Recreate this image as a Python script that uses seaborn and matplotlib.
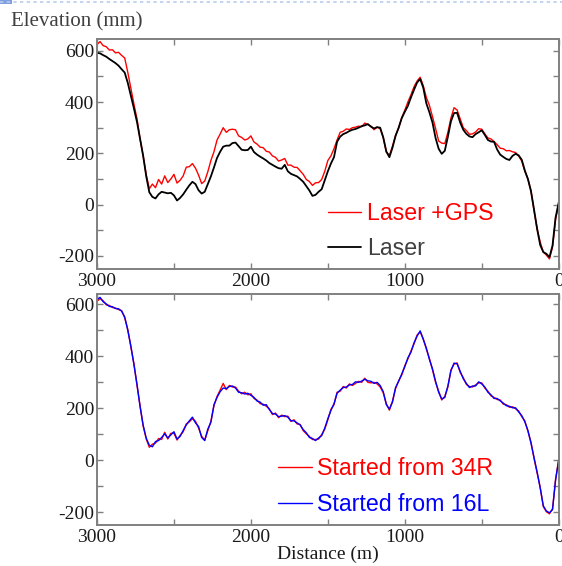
import numpy as np
import pandas as pd
import seaborn as sns
import matplotlib
matplotlib.use("Agg")
import matplotlib.pyplot as plt
from matplotlib.lines import Line2D
from matplotlib.patches import Rectangle
from matplotlib.ticker import MultipleLocator

# Distance along the runway (m), sampled every 20 m from 3000 down to 0
distance = np.arange(3000, -1, -20)

# Elevation profile (mm): laser combined with GPS
laser_gps = [
    625, 636, 620, 616, 603, 604, 592, 594, 582, 572,
    516, 455, 392, 334, 256, 190, 116, 62, 80, 66,
    98, 80, 112, 86, 100, 118, 84, 95, 112, 146,
    148, 160, 142, 115, 82, 92, 128, 172, 206, 252,
    275, 300, 282, 292, 294, 292, 268, 262, 252, 256,
    268, 244, 236, 224, 222, 208, 205, 190, 184, 170,
    174, 180, 154, 154, 146, 145, 132, 118, 98, 90,
    75, 85, 86, 98, 130, 172, 190, 218, 252, 282,
    286, 295, 293, 300, 302, 306, 304, 318, 312, 306,
    292, 302, 296, 262, 205, 192, 228, 270, 298, 339,
    368, 400, 428, 460, 482, 497, 464, 418, 387, 343,
    297, 248, 240, 238, 282, 338, 378, 369, 334, 300,
    289, 274, 276, 283, 296, 294, 276, 260, 256, 246,
    234, 220, 218, 210, 211, 206, 203, 189, 170, 130,
    100, 55, -25, -95, -146, -185, -197, -212, -165, -55,
    -5,
]

# Elevation profile (mm): laser only
laser_only = [
    592, 590, 583, 577, 568, 560, 552, 542, 528, 515,
    475, 425, 375, 322, 255, 190, 110, 48, 30, 24,
    40, 50, 47, 44, 46, 36, 16, 26, 40, 58,
    75, 89, 80, 56, 43, 50, 80, 110, 145, 182,
    206, 226, 230, 230, 240, 242, 228, 214, 212, 213,
    226, 205, 195, 187, 180, 172, 162, 155, 148, 142,
    140, 155, 130, 120, 115, 110, 100, 89, 72, 55,
    34, 38, 50, 60, 95, 130, 160, 185, 245, 265,
    275, 280, 287, 292, 295, 300, 306, 309, 314, 304,
    297, 302, 300, 262, 207, 185, 222, 268, 300, 337,
    362, 385, 418, 448, 476, 490, 456, 395, 360, 320,
    260, 218, 198, 210, 265, 325, 357, 358, 320, 292,
    276, 266, 263, 275, 282, 290, 272, 252, 246, 245,
    215, 195, 186, 178, 174, 190, 198, 192, 175, 133,
    100, 52, -20, -95, -158, -185, -192, -205, -160, -50,
    8,
]

# Laser + GPS survey started from the 34R end
from_34r = [
    612, 622, 614, 598, 596, 588, 586, 580, 576, 548,
    504, 436, 372, 288, 210, 131, 82, 50, 62, 66,
    84, 80, 108, 82, 104, 104, 78, 96, 110, 140,
    148, 160, 150, 124, 92, 78, 114, 150, 210, 246,
    270, 296, 272, 288, 282, 282, 266, 256, 262, 252,
    256, 238, 232, 218, 216, 208, 198, 176, 182, 164,
    174, 168, 170, 150, 156, 140, 138, 114, 102, 92,
    80, 80, 82, 99, 120, 156, 196, 214, 262, 266,
    284, 278, 294, 288, 296, 304, 300, 316, 300, 298,
    300, 294, 282, 260, 218, 193, 228, 276, 306, 328,
    364, 390, 420, 448, 482, 494, 468, 428, 392, 348,
    300, 266, 232, 246, 282, 348, 370, 375, 338, 318,
    292, 284, 282, 290, 298, 298, 278, 266, 248, 242,
    234, 232, 216, 214, 204, 206, 198, 190, 168, 152,
    112, 70, 6, -48, -104, -178, -198, -206, -186, -72,
    2,
]

# Laser + GPS survey started from the 16L end
from_16l = [
    619, 627, 610, 602, 592, 591, 584, 583, 574, 552,
    500, 440, 368, 292, 206, 135, 85, 58, 52, 72,
    76, 88, 102, 86, 98, 110, 82, 92, 115, 136,
    152, 166, 144, 130, 88, 76, 120, 146, 214, 242,
    264, 278, 276, 284, 286, 278, 262, 260, 255, 258,
    250, 242, 228, 224, 212, 214, 195, 180, 178, 168,
    170, 172, 166, 152, 152, 144, 136, 118, 106, 88,
    84, 76, 86, 95, 124, 160, 192, 218, 258, 270,
    280, 282, 290, 292, 302, 300, 305, 312, 306, 304,
    296, 300, 288, 264, 214, 197, 224, 280, 304, 332,
    360, 394, 416, 452, 478, 498, 465, 432, 388, 352,
    304, 262, 236, 242, 286, 345, 374, 371, 342, 314,
    296, 280, 286, 286, 302, 294, 282, 262, 252, 238,
    238, 229, 220, 210, 208, 202, 202, 186, 172, 148,
    115, 66, 10, -45, -107, -175, -195, -202, -190, -75,
    0,
]

x_ticks_major = [3000, 2000, 1000, 0]
y_ticks_major = [-200, 0, 200, 400, 600]

top_df = pd.DataFrame({"distance": distance, "Laser +GPS": laser_gps, "Laser": laser_only})
bottom_df = pd.DataFrame({"distance": distance, "Started from 34R": from_34r,
                          "Started from 16L": from_16l})

sns.set_style("ticks")
plt.rcParams["font.family"] = ["Liberation Serif", "DejaVu Serif"]
plt.rcParams["axes.unicode_minus"] = False

fig = plt.figure(figsize=(5.62, 5.66), dpi=100)
fig.patch.set_facecolor("white")

ax_top = fig.add_axes([0.1726, 0.5253, 0.8215, 0.4058])
ax_bot = fig.add_axes([0.1726, 0.0724, 0.8215, 0.4082])

sns.lineplot(data=top_df, x="distance", y="Laser +GPS", ax=ax_top, color="#ff0000",
             linewidth=1.0, estimator=None, label="Laser +GPS")
sns.lineplot(data=top_df, x="distance", y="Laser", ax=ax_top, color="#000000",
             linewidth=1.3, estimator=None, label="Laser")

sns.lineplot(data=bottom_df, x="distance", y="Started from 34R", ax=ax_bot, color="#ff0000",
             linewidth=1.0, estimator=None, label="Started from 34R")
sns.lineplot(data=bottom_df, x="distance", y="Started from 16L", ax=ax_bot, color="#0000ff",
             linewidth=1.0, estimator=None, label="Started from 16L")

spine_col = "#808080"
for ax, ylim in ((ax_top, (-250, 646)), (ax_bot, (-249, 640))):
    ax.set_xlim(3000, 0)
    ax.set_ylim(*ylim)
    ax.set_xticks(x_ticks_major)
    ax.xaxis.set_minor_locator(MultipleLocator(500))
    ax.set_yticks(y_ticks_major)
    ax.yaxis.set_minor_locator(MultipleLocator(100))
    ax.set_xlabel("")
    ax.set_ylabel("")
    for s in ax.spines.values():
        s.set_color(spine_col)
        s.set_linewidth(1.4)
    ax.tick_params(which="both", direction="in", top=True, right=True, length=4,
                   width=1.0, color=spine_col, labelsize=14, labelcolor="#1a1a1a")
    ax.tick_params(axis="x", pad=3)
    ax.tick_params(axis="y", pad=2)
    for lab in ax.get_xticklabels() + ax.get_yticklabels():
        lab.set_family(["Liberation Serif"])

leg_kw = dict(frameon=False, loc="lower left", borderpad=0, borderaxespad=0,
              handlelength=1.45, handletextpad=0.25, labelspacing=0.55,
              prop={"family": "Liberation Sans", "size": 16.7})
leg1 = ax_top.legend(bbox_to_anchor=(0.50, 0.036), **leg_kw)
for txt, col in zip(leg1.get_texts(), ["#ff0000", "#404040"]):
    txt.set_color(col)
leg2 = ax_bot.legend(bbox_to_anchor=(0.392, 0.038), **leg_kw)
for txt, col in zip(leg2.get_texts(), ["#ff0000", "#0000ff"]):
    txt.set_color(col)

fig.text(11 / 562, 1 - 26 / 566, "Elevation (mm)", fontsize=15, color="#404040",
         ha="left", va="baseline", family=["Liberation Serif"])
fig.text(0.5836, 1 - 559 / 566, "Distance (m)", fontsize=14, color="#1a1a1a",
         ha="center", va="baseline", family=["Liberation Serif"])

# window-edge decoration along the top
fig.add_artist(Line2D([0, 1], [1 - 1.5 / 566, 1 - 1.5 / 566], transform=fig.transFigure,
                      color="#b8cdee", linewidth=1.2, linestyle=(0, (2, 2))))
fig.add_artist(Rectangle((0, 1 - 4 / 566), 12 / 562, 4 / 566, transform=fig.transFigure,
                         color="#7f9fe0", linewidth=0))

fig.savefig("out.png", dpi=100, facecolor="white")
